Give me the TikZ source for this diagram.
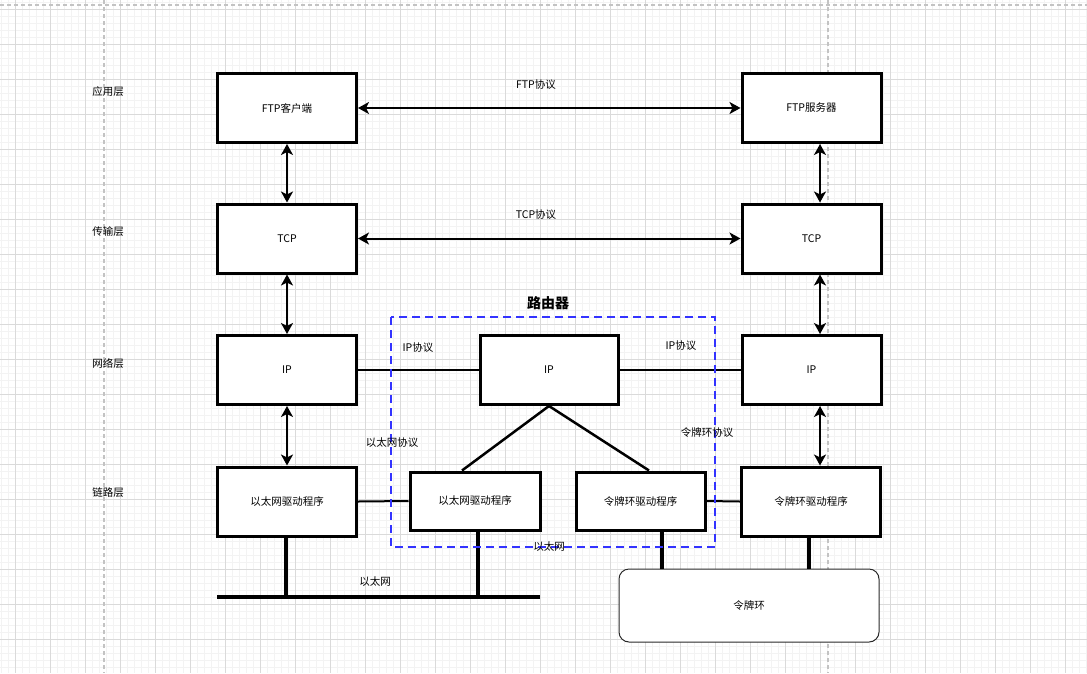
\documentclass[tikz,border=0pt]{standalone}
\usepackage{fontspec}
\setmainfont{Noto Sans CJK SC}
\usetikzlibrary{arrows.meta,calc}
\definecolor{gridminor}{RGB}{243,243,243}
\definecolor{gridmajor}{RGB}{218,218,218}
\definecolor{pagebrk}{RGB}{195,195,195}
\definecolor{routerblue}{RGB}{51,51,255}
\definecolor{ringdraw}{RGB}{40,40,40}
\tikzset{
  box/.style={draw=black, line width=3pt, fill=white, inner sep=0pt,
              font=\fontsize{10.5}{12}\selectfont},
  bigbox/.style={box, minimum width=139pt, minimum height=69pt},
  rbox/.style={box, minimum width=130pt, minimum height=58pt},
  lbl/.style={font=\fontsize{10.5}{12}\selectfont, inner sep=0pt},
  dbl/.style={line width=2pt, {Stealth[length=11pt,width=12pt,inset=3pt]}-{Stealth[length=11pt,width=12pt,inset=3pt]}},
  thin link/.style={line width=2pt},
  thick link/.style={line width=4pt},
  routerframe/.style={draw=routerblue, line width=2.5pt, dash pattern=on 8pt off 5pt},
}
\begin{document}
\begin{tikzpicture}[x=1pt,y=-1pt]
\useasboundingbox (0,0) rectangle (1087,673);
\fill[white] (0,0) rectangle (1087,673);
% grid
\foreach \gx in {1,8,...,1087} \draw[gridminor, line width=0.8pt] (\gx,0) -- (\gx,673);
\foreach \gy in {2,9,...,673} \draw[gridminor, line width=0.8pt] (0,\gy) -- (1087,\gy);
\foreach \gx in {15,50,...,1087} \draw[gridmajor, line width=0.9pt] (\gx,0) -- (\gx,673);
\foreach \gy in {9,44,...,673} \draw[gridmajor, line width=0.9pt] (0,\gy) -- (1087,\gy);
% page breaks
\draw[pagebrk, line width=1.2pt, dash pattern=on 4pt off 3pt] (104,0) -- (104,673);
\draw[pagebrk, line width=1.2pt, dash pattern=on 4pt off 3pt] (828,0) -- (828,673);
\draw[pagebrk, line width=1.2pt, dash pattern=on 4pt off 3pt] (0,5) -- (1087,5);

% layer labels
\node[lbl] (l1) at (108,92) {应用层};
\node[lbl] (l2) at (108,232) {传输层};
\node[lbl] (l3) at (108,363) {网络层};
\node[lbl] (l4) at (108,493) {链路层};

% left host
\node[bigbox] (cli) at (287,108) {FTP客户端};
\node[bigbox] (tcpL) at (287,238.5) {TCP};
\node[bigbox] (ipL) at (287,370) {IP};
\node[bigbox] (ethL) at (287,501.5) {以太网驱动程序};
% right host
\node[bigbox] (srv) at (811.5,108) {FTP服务器};
\node[bigbox] (tcpR) at (811.5,238.5) {TCP};
\node[bigbox] (ipR) at (811.5,370) {IP};
\node[bigbox] (trR) at (811,501.5) {令牌环驱动程序};
% router
\node[rbox, minimum width=138pt, minimum height=69pt] (ipM) at (549,370) {IP};
\node[rbox] (ethM) at (475,501) {以太网驱动程序};
\node[rbox, minimum width=129pt] (trM) at (640.5,501) {令牌环驱动程序};
% token ring
\node[draw=ringdraw, line width=1pt, fill=white, rounded corners=10pt,
      minimum width=260pt, minimum height=73pt, lbl] (ring) at (749,605.5) {令牌环};

% helper coordinates
\coordinate (rcol) at (820,0);
\coordinate (busL) at (217,597);
\coordinate (busR) at (540,597);

% vertical double arrows
\draw[dbl] (cli.south) -- (tcpL.north);
\draw[dbl] (tcpL.south) -- (ipL.north);
\draw[dbl] (ipL.south) -- (ethL.north);
\draw[dbl] (srv.south -| rcol) -- (tcpR.north -| rcol);
\draw[dbl] (tcpR.south -| rcol) -- (ipR.north -| rcol);
\draw[dbl] (ipR.south -| rcol) -- (trR.north -| rcol);
% horizontal double arrows
\draw[dbl] (cli.east) -- (srv.west);
\draw[dbl] (tcpL.east) -- (tcpR.west);

% links
\draw[thin link] (ipL.east) -- (ipM.west);
\draw[thin link] (ipM.east) -- (ipR.west);
\draw[thin link] (ethL.east) -- (ethM.west);
\draw[thin link] (trM.east) -- (trR.west);
\draw[line width=2.5pt] (ipM.south) -- ($(ethM.north)+(-13,0)$);
\draw[line width=2.5pt] (ipM.south) -- ($(trM.north)+(8.5,0)$);

% ethernet bus
\draw[thick link] (busL) -- (busR);
\draw[thick link] (ethL.south -| 286,0) -- (busL -| 286,0);
\draw[thick link] (ethM.south -| 478,0) -- (busL -| 478,0);
% token ring drops
\draw[thick link] (trM.south -| 662,0) -- (ring.north -| 662,0);
\draw[thick link] (trR.south -| 809,0) -- (ring.north -| 809,0);

% router frame
\draw[routerframe] (391,317) rectangle (715,547);
\node[font=\fontsize{14}{16}\selectfont\bfseries, inner sep=0pt] (rt) at (548,303) {路由器};

% labels
\node[lbl] (p1) at (536,85) {FTP协议};
\node[lbl] (p2) at (536,215) {TCP协议};
\node[lbl] (p3) at (418,348) {IP协议};
\node[lbl] (p4) at (681,346) {IP协议};
\node[lbl] (p5) at (392,443) {以太网协议};
\node[lbl] (p6) at (707,433) {令牌环协议};
\node[lbl] (e1) at (375,582) {以太网};
\node[lbl] (e2) at (549,547) {以太网};
\end{tikzpicture}
\end{document}
